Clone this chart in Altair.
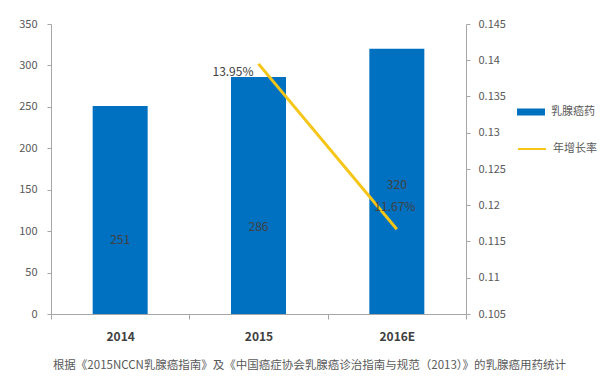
import altair as alt
import pandas as pd

years = ["2014", "2015", "2016E"]
sales = [251, 286, 320]
bar_label_dy = [30, 31, 4]
growth_years = ["2015", "2016E"]
growth = [0.1395, 0.1167]
growth_labels = ["13.95%", "11.67%"]
caption = "根据《2015NCCN乳腺癌指南》及《中国癌症协会乳腺癌诊治指南与规范（2013）》的乳腺癌用药统计"

BLUE = "#0070C0"
YELLOW = "#F5C518"
GRAY = "#A6A6A6"
TXT = "#595959"
FONT = "Noto Sans CJK SC"

bars = pd.DataFrame({"year": years, "sales": sales, "s": ["乳腺癌药"] * 3,
                     "half": [v / 2 for v in sales]})
line = pd.DataFrame({"year": growth_years, "g": growth, "lab": growth_labels,
                     "s2": ["年增长率"] * 2})

xscale = alt.Scale(domain=years, paddingInner=0, paddingOuter=0)
xaxis = alt.Axis(title=None, labelFont=FONT, labelFontSize=12, labelFontWeight="bold",
                 labelColor="#404040", domainColor=GRAY, tickColor=GRAY, tickBand="extent",
                 tickSize=5, labelPadding=12, labelAngle=0)
x = alt.X("year:N", scale=xscale, axis=xaxis, sort=years)

ybar_scale = alt.Scale(domain=[0, 350], nice=False)
ybar_axis = alt.Axis(title=None, values=list(range(0, 351, 50)), grid=False, orient="left",
                     labelFont=FONT, labelFontSize=11, labelColor=TXT, domainColor=GRAY,
                     tickColor=GRAY, tickSize=4, labelPadding=10)

barlayer = alt.Chart(bars).mark_bar(size=55).encode(
    x=x,
    y=alt.Y("sales:Q", scale=ybar_scale, axis=ybar_axis),
    color=alt.Color("s:N", scale=alt.Scale(domain=["乳腺癌药"], range=[BLUE]),
                    legend=alt.Legend(title=None, orient="none", legendX=466, legendY=74,
                                      symbolType="M-1,-0.25H1V0.25H-1Z", symbolSize=784,
                                      symbolStrokeWidth=0, labelFont=FONT, labelFontSize=11,
                                      labelColor=TXT, labelOffset=6)),
)

barlabel_layers = []
for yr, d in zip(years, bar_label_dy):
    barlabel_layers.append(
        alt.Chart(bars).transform_filter(alt.datum.year == yr)
        .transform_calculate(lbl="format(datum.sales, 'd')")
        .mark_text(font=FONT, fontSize=12, color="#404040", baseline="middle", dy=d)
        .encode(x=x, y=alt.Y("half:Q", scale=ybar_scale, axis=ybar_axis), text="lbl:N")
    )

left = alt.layer(barlayer, *barlabel_layers)

yl_scale = alt.Scale(domain=[0.105, 0.145], nice=False, zero=False)
yl_axis = alt.Axis(title=None, values=[0.105, 0.11, 0.115, 0.12, 0.125, 0.13, 0.135, 0.14, 0.145],
                   format="~g", grid=False, orient="right", labelFont=FONT, labelFontSize=11,
                   labelColor=TXT, domainColor=GRAY, tickColor=GRAY, tickSize=4, labelPadding=8)

linelayer = alt.Chart(line).mark_line(strokeWidth=3).encode(
    x=x,
    y=alt.Y("g:Q", scale=yl_scale, axis=yl_axis),
    stroke=alt.Stroke("s2:N", scale=alt.Scale(domain=["年增长率"], range=[YELLOW]),
                      legend=alt.Legend(title=None, orient="none", legendX=466, legendY=110,
                                        symbolType="stroke", symbolSize=784,
                                        symbolStrokeWidth=2, labelFont=FONT, labelFontSize=11,
                                        labelColor=TXT, labelOffset=6)),
)

lab1 = alt.Chart(line).transform_filter(alt.datum.year == "2015").mark_text(
    font=FONT, fontSize=12, color="#404040", align="right", baseline="middle", dx=-5, dy=8
).encode(x=x, y=alt.Y("g:Q", scale=yl_scale, axis=yl_axis), text="lab:N")

lab2 = alt.Chart(line).transform_filter(alt.datum.year == "2016E").mark_text(
    font=FONT, fontSize=12, color="#404040", align="center", baseline="middle", dx=-2, dy=-22
).encode(x=x, y=alt.Y("g:Q", scale=yl_scale, axis=yl_axis), text="lab:N")

right = alt.layer(linelayer, lab1, lab2)

chart = alt.layer(left, right).resolve_scale(y="independent", color="independent",
                                             stroke="independent").properties(
    width=415, height=290,
    autosize=alt.AutoSizeParams(type="none"),
    padding={"left": 51, "top": 24, "right": 138, "bottom": 62},
    title=alt.TitleParams(text=caption, orient="bottom", font=FONT, fontSize=11.5,
                          fontWeight="normal", color=TXT, offset=18, anchor="middle", dx=51),
).configure_view(stroke=None)

chart.save("out.html", embed_options={"renderer": "svg", "actions": False})
